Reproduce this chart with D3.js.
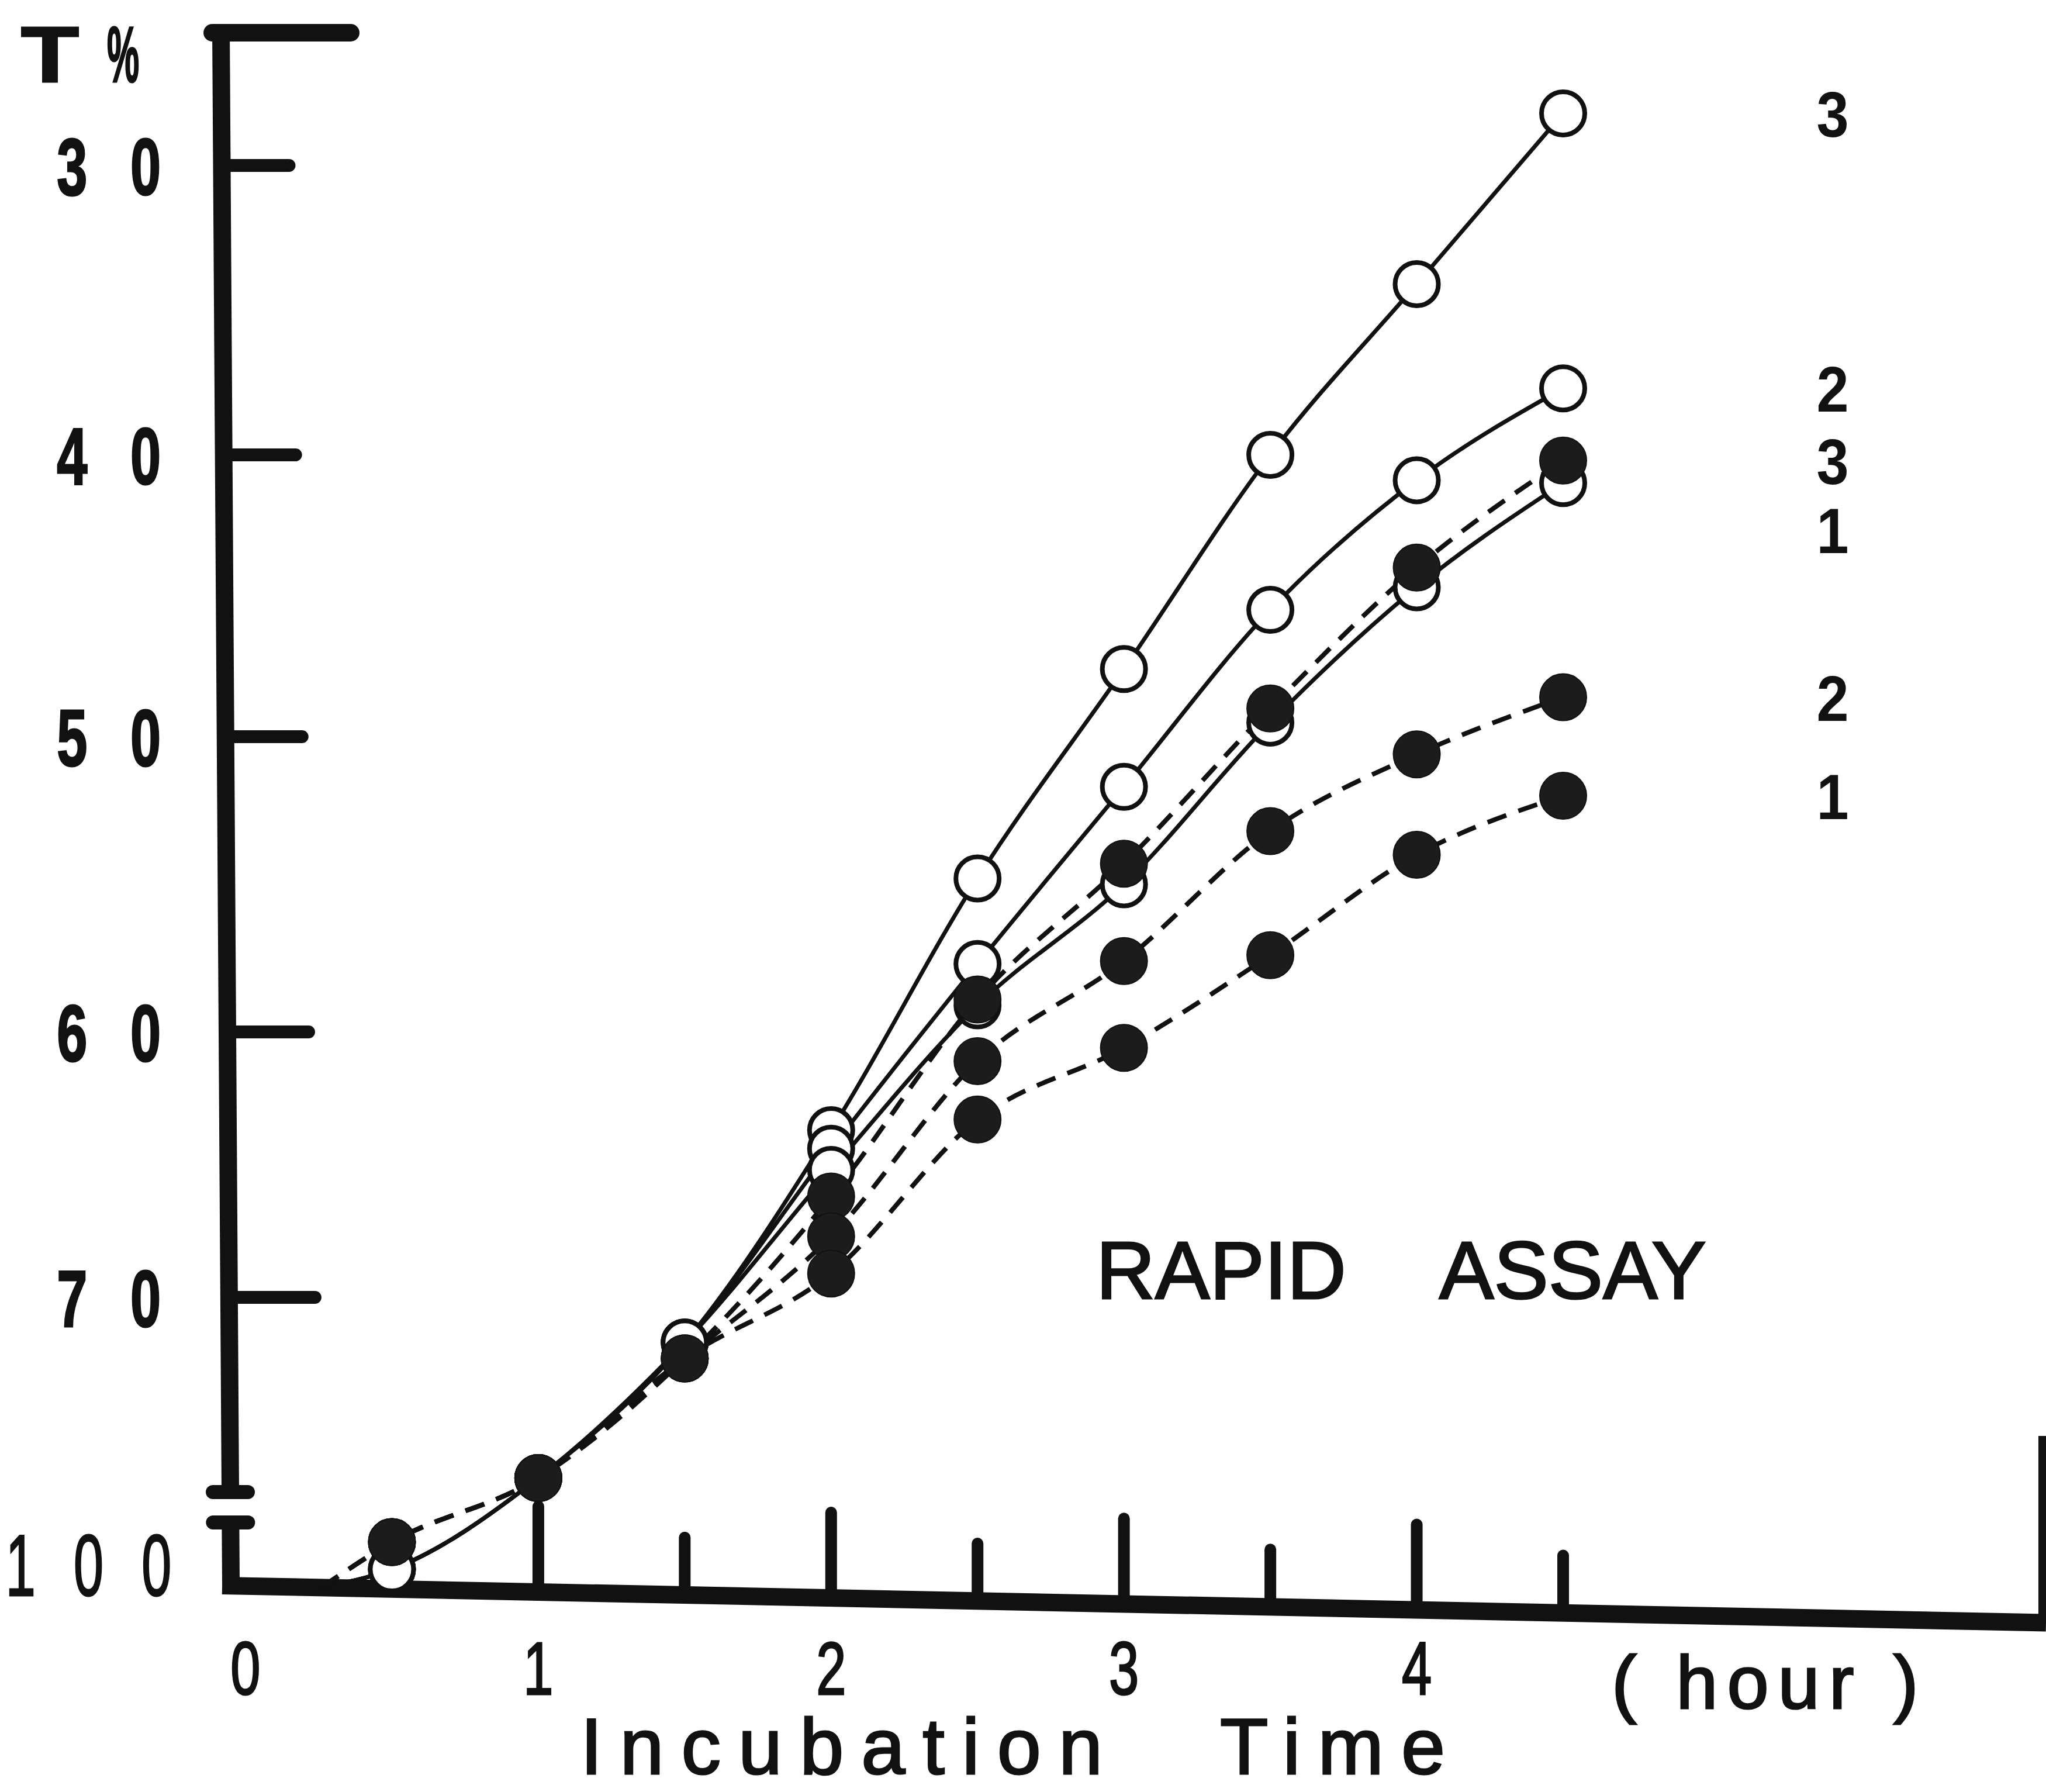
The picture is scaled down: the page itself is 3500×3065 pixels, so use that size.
<!DOCTYPE html>
<html>
<head>
<meta charset="utf-8">
<script src="https://cdn.jsdelivr.net/npm/d3@7"></script>
<style>
  body { margin: 0; background: #fff; }
  text { font-family: "Liberation Sans", Arial, sans-serif; fill: #111; }
  text.inked { stroke: #111; stroke-width: 3px; }
</style>
</head>
<body>
<svg id="chart" width="3500" height="3065"></svg>
<script>
// Rapid assay: T% against incubation time.
// Open circles = solid lines, filled circles = dashed lines.
var hours = [0.5, 1, 1.5, 2, 2.5, 3, 3.5, 4, 4.5];
var open3 = [96, 76.8, 71.7, 63.7, 54.8, 47.6, 40.0, 34.1, 28.2];
var open2 = [96, 76.8, 71.7, 64.4, 57.7, 51.7, 45.5, 40.9, 37.7];
var open1 = [96, 76.8, 71.7, 65.2, 59.1, 55.0, 49.5, 44.7, 41.0];
var filled3 = [90, 76.8, 72.3, 66.2, 58.9, 54.3, 49.0, 44.0, 40.2];
var filled2 = [90, 76.8, 72.3, 67.7, 61.1, 57.6, 53.2, 50.6, 48.6];
var filled1 = [90, 76.8, 72.3, 69.1, 63.3, 60.6, 57.4, 54.0, 52.0];
var startPoint = [0.26, 100];   // where all curves leave the baseline

var yTicks = [30, 40, 50, 60, 70];
var yTickLabels = ["3 0", "4 0", "5 0", "6 0", "7 0"];
var bottomLabel = "1 0 0";
var xTicks = [1, 1.5, 2, 2.5, 3, 3.5, 4, 4.5];
var xTickLabels = [0, 1, 2, 3, 4];

var series = [
  { label: "3", values: open3, filled: false },
  { label: "2", values: open2, filled: false },
  { label: "1", values: open1, filled: false },
  { label: "3", values: filled3, filled: true },
  { label: "2", values: filled2, filled: true },
  { label: "1", values: filled1, filled: true }
];

var svg = d3.select("#chart");
var ink = "#111";

// x: hours; y: T% grows downward, with a break between 77 and 100
var x = d3.scaleLinear().domain([0, 4.5]).range([420, 2674]);
var y = d3.scaleLinear()
    .domain([30, 40, 50, 60, 70, 77, 100])
    .range([283, 778, 1260, 1765, 2219, 2537, 2715]);

// the scanned axes are a little skewed
function axisX(py) { return 378 + (py - 50) * 0.0064; }
function base(px) { return 2712 + (px - 400) * 0.0205; }

var axes = svg.append("g").attr("stroke", ink).attr("fill", "none");

// baseline
axes.append("line")
    .attr("x1", axisX(2712) - 15).attr("y1", base(axisX(2712)))
    .attr("x2", 3500).attr("y2", base(3500))
    .attr("stroke-width", 30);

// right frame stub
axes.append("line")
    .attr("x1", 3494).attr("y1", 2456)
    .attr("x2", 3494).attr("y2", base(3494))
    .attr("stroke-width", 14);

// x ticks
axes.selectAll(".xtick")
    .data(xTicks)
    .enter().append("line")
    .attr("stroke-width", 20)
    .attr("stroke-linecap", "round")
    .attr("x1", function (d) { return x(d); })
    .attr("x2", function (d) { return x(d); })
    .attr("y1", function (d) { return base(x(d)); })
    .attr("y2", function (d) { return base(x(d)) - (d % 1 === 0 ? 146 : 98); });

// y axis, broken near the bottom
axes.append("line")
    .attr("x1", axisX(42)).attr("y1", 42)
    .attr("x2", axisX(2552)).attr("y2", 2552)
    .attr("stroke-width", 30);
axes.append("line")
    .attr("x1", axisX(2604)).attr("y1", 2604)
    .attr("x2", axisX(2712)).attr("y2", 2712)
    .attr("stroke-width", 30);
[2552, 2604].forEach(function (py) {
  axes.append("line")
      .attr("x1", axisX(py) - 30).attr("y1", py)
      .attr("x2", axisX(py) + 30).attr("y2", py)
      .attr("stroke-width", 24)
      .attr("stroke-linecap", "round");
});

// top cap
axes.append("line")
    .attr("x1", axisX(56) - 15).attr("y1", 56)
    .attr("x2", 600).attr("y2", 56)
    .attr("stroke-width", 30)
    .attr("stroke-linecap", "round");

// y ticks
axes.selectAll(".ytick")
    .data(yTicks)
    .enter().append("line")
    .attr("stroke-width", 22)
    .attr("stroke-linecap", "round")
    .attr("x1", function (d) { return axisX(y(d)); })
    .attr("x2", function (d, i) { return axisX(y(d)) + 115 + i * 8; })
    .attr("y1", function (d) { return y(d); })
    .attr("y2", function (d) { return y(d); });

// y labels, bold and condensed
svg.selectAll(".ylab")
    .data(yTicks)
    .enter().append("text")
    .attr("class", "inked")
    .attr("transform", function (d) { return "translate(" + (275 + 24) + "," + (y(d) + 50) + ") scale(0.68,1)"; })
    .attr("text-anchor", "end")
    .attr("font-size", 138)
    .attr("font-weight", "bold")
    .style("letter-spacing", "35px")
    .text(function (d, i) { return yTickLabels[i]; });

svg.append("text")
    .attr("class", "inked")
    .attr("transform", "translate(" + (293 + 20) + "," + (y(100) + 14) + ") scale(0.62,1)")
    .attr("text-anchor", "end")
    .attr("font-size", 148)
    .style("letter-spacing", "32px")
    .text(bottomLabel);

svg.append("text")
    .attr("class", "inked")
    .attr("transform", "translate(36,140) scale(1.2,1)")
    .attr("font-size", 135)
    .attr("font-weight", "bold")
    .text("T");
svg.append("text")
    .attr("class", "inked")
    .attr("transform", "translate(183,140) scale(0.46,1)")
    .attr("font-size", 135)
    .attr("font-weight", "bold")
    .text("%");

// x labels
svg.selectAll(".xlab")
    .data(xTickLabels)
    .enter().append("text")
    .attr("class", "inked")
    .attr("transform", function (d) { return "translate(" + x(d) + ",2898) scale(0.72,1)"; })
    .attr("text-anchor", "middle")
    .attr("font-size", 128)
    .text(function (d) { return d; });

svg.append("text")
    .attr("class", "inked")
    .attr("x", 2757).attr("y", 2922)
    .attr("font-size", 128)
    .style("letter-spacing", "16px")
    .text("( hour )");

svg.append("text")
    .attr("class", "inked")
    .attr("x", 993).attr("y", 3034)
    .attr("font-size", 135)
    .style("letter-spacing", "30px")
    .text("Incubation");
svg.append("text")
    .attr("class", "inked")
    .attr("x", 2087).attr("y", 3034)
    .attr("font-size", 135)
    .style("letter-spacing", "30px")
    .text("Time");

svg.append("text")
    .attr("class", "inked")
    .attr("x", 1875).attr("y", 2221)
    .attr("font-size", 140)
    .text("RAPID");
svg.append("text")
    .attr("class", "inked")
    .attr("x", 2462).attr("y", 2221)
    .attr("font-size", 140)
    .text("ASSAY");

// curves
var line = d3.line()
    .x(function (d) { return x(d[0]); })
    .y(function (d) { return y(d[1]); })
    .curve(d3.curveMonotoneX);

function points(s) {
  return [startPoint].concat(hours.map(function (h, i) { return [h, s.values[i]]; }));
}

svg.append("g").selectAll("path")
    .data(series)
    .enter().append("path")
    .attr("d", function (s) { return line(points(s)); })
    .attr("fill", "none")
    .attr("stroke", ink)
    .attr("stroke-width", function (s) { return s.filled ? 8 : 7; })
    .attr("stroke-dasharray", function (s) { return s.filled ? "34,22" : null; });

// markers: open first, filled on top
series.filter(function (s) { return !s.filled; }).concat(series.filter(function (s) { return s.filled; }))
  .forEach(function (s) {
    svg.append("g").selectAll("circle")
        .data(hours)
        .enter().append("circle")
        .attr("cx", function (h) { return x(h); })
        .attr("cy", function (h, i) { return y(s.values[i]); })
        .attr("r", s.filled ? 40 : 37)
        .attr("fill", s.filled ? "#1c1c1c" : "#fff")
        .attr("stroke", ink)
        .attr("stroke-width", s.filled ? 2 : 8);
  });

// end labels, pushed apart where they would collide
var ends = series.map(function (s) {
  return { label: s.label, py: y(s.values[s.values.length - 1]) };
}).sort(function (a, b) { return a.py - b.py; });
var prev = -Infinity;
ends.forEach(function (e) {
  e.ly = Math.max(e.py, prev + 118);
  prev = e.ly;
});
svg.selectAll(".endlab")
    .data(ends)
    .enter().append("text")
    .attr("transform", function (e) { return "translate(3135," + (e.ly + 40) + ") scale(0.9,1)"; })
    .attr("text-anchor", "middle")
    .attr("font-size", 110)
    .attr("font-weight", "bold")
    .text(function (e) { return e.label; });
</script>
</body>
</html>
